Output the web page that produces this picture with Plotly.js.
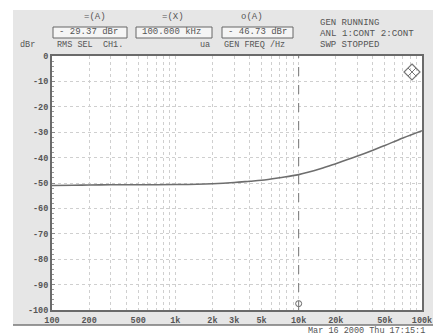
<!DOCTYPE html>
<html><head><meta charset="utf-8">
<script src="https://cdn.plot.ly/plotly-3.0.1.min.js"></script>
<style>html,body{margin:0;padding:0;background:#fff;}#chart{width:433px;height:336px;}</style>
</head><body><div id="chart"></div>
<script>
// ---- data ----
const freqHz = [100,150,200,300,400,500,700,1000,1500,2000,3000,4000,5000,7000,10000,15000,20000,30000,40000,50000,70000,100000];
const levelDbr = [-51.0,-50.9,-50.8,-50.7,-50.7,-50.7,-50.7,-50.6,-50.5,-50.3,-49.8,-49.3,-48.9,-47.9,-46.7,-44.4,-42.4,-39.4,-37.1,-35.2,-32.3,-29.4];
const xLabelVals = [100,200,500,1000,2000,3000,5000,10000,20000,50000,100000];
const xLabelText = ['100','200','500','1k','2k','3k','5k','10k','20k','50k','100k'];
const yTickVals = [0,-10,-20,-30,-40,-50,-60,-70,-80,-90,-100];
const cursorFreq = 10000;
const headerTitles = ['=(A)','=(X)','o(A)'];
const headerValues = ['- 29.37 dBr','100.000 kHz','- 46.73 dBr'];
const statusLines = ['GEN RUNNING','ANL 1:CONT 2:CONT','SWP STOPPED'];

// ---- geometry helpers (pixel -> paper) ----
const L=52, R=422, T=56, B=310;
const px = x => (x-L)/(R-L);
const py = y => (B-y)/(B-T);

// grid tick values: every 1..9 multiple per decade
const gridVals = [];
for (let d=100; d<100000; d*=10) for (let n=1;n<10;n++) gridVals.push(n*d);
gridVals.push(100000);
const gridText = gridVals.map(v => { const i = xLabelVals.indexOf(v); return i>=0 ? xLabelText[i] : ''; });

const mono = 'Liberation Mono, DejaVu Sans Mono, monospace';
const txtCol = '#555';

const traces = [
  {x: freqHz, y: levelDbr, type:'scatter', mode:'lines', line:{color:'#6e6e6e', width:1.6, shape:'spline'}, hoverinfo:'skip'},
  {x:[cursorFreq], y:[-97.5], type:'scatter', mode:'markers', marker:{symbol:'circle-open', size:6, color:'#666', line:{width:1}}, hoverinfo:'skip'}
];

const ann = [];
const hdrX = [95,173,252];
headerTitles.forEach((t,i)=>ann.push({text:t, x:px(hdrX[i]), y:py(17), xref:'paper', yref:'paper', showarrow:false, xanchor:'center', yanchor:'middle', font:{family:mono, size:9, color:txtCol}}));
const boxX = [[53,127],[136,212],[222,293]];
headerValues.forEach((t,i)=>ann.push({text:t, x:px(boxX[i][0]+4), y:py(32.5), xref:'paper', yref:'paper', showarrow:false, xanchor:'left', yanchor:'middle', font:{family:mono, size:9, color:txtCol}}));
[[18,'dBr'],[55,'RMS SEL  CH1.'],[198,'ua'],[222,'GEN FREQ /Hz']].forEach(([x,t])=>ann.push({text:t, x:px(x), y:py(45), xref:'paper', yref:'paper', showarrow:false, xanchor:'left', yanchor:'middle', font:{family:mono, size:8.5, color:txtCol}}));
statusLines.forEach((t,i)=>ann.push({text:t, x:px(318), y:py(23+i*11), xref:'paper', yref:'paper', showarrow:false, xanchor:'left', yanchor:'middle', font:{family:mono, size:i===1?9.2:9, color:txtCol}}));
ann.push({text:'Mar 16 2000 Thu 17:15:1', x:px(306), y:py(331), xref:'paper', yref:'paper', showarrow:false, xanchor:'left', yanchor:'middle', font:{family:mono, size:8.5, color:txtCol}});

const shapes = [
  // white outer margins
  {type:'rect', xref:'paper', yref:'paper', x0:px(0), x1:px(433), y0:py(0), y1:py(10), fillcolor:'#fff', line:{width:0}, layer:'below'},
  {type:'rect', xref:'paper', yref:'paper', x0:px(0), x1:px(13), y0:py(0), y1:py(336), fillcolor:'#fff', line:{width:0}, layer:'below'},
  {type:'rect', xref:'paper', yref:'paper', x0:px(0), x1:px(433), y0:py(325), y1:py(336), fillcolor:'#fff', line:{width:0}, layer:'below'},
  {type:'line', xref:'paper', yref:'paper', x0:px(13), x1:px(433), y0:py(325), y1:py(325), line:{color:'#777', width:1.5}},
  // header boxes
  ...boxX.map(([a,b])=>({type:'rect', xref:'paper', yref:'paper', x0:px(a), x1:px(b), y0:py(27), y1:py(38), fillcolor:'rgba(255,255,255,0.6)', line:{color:'#666', width:1}})),
  // cursor line
  {type:'line', xref:'x', yref:'paper', x0:cursorFreq, x1:cursorFreq, y0:0, y1:1, line:{color:'#777', width:1, dash:'dash'}},
  // R&S diamond logo
  {type:'path', xref:'paper', yref:'paper', path:`M ${px(412)} ${py(64)} L ${px(420)} ${py(72)} L ${px(412)} ${py(80)} L ${px(404)} ${py(72)} Z`, line:{color:'#777', width:1.2}},
  {type:'path', xref:'paper', yref:'paper', path:`M ${px(408)} ${py(68)} L ${px(416)} ${py(76)} M ${px(416)} ${py(68)} L ${px(408)} ${py(76)}`, line:{color:'#777', width:1}}
];

const layout = {
  width:433, height:336,
  margin:{l:L, r:433-R, t:T, b:336-B},
  paper_bgcolor:'#e6e6e6', plot_bgcolor:'#fff',
  showlegend:false,
  xaxis:{type:'log', range:[Math.log10(100), Math.log10(100000)], tickmode:'array', tickvals:gridVals, ticktext:gridText,
    showgrid:true, gridcolor:'#cfcfcf', griddash:'dot', gridwidth:1, ticks:'', showline:true, mirror:true, linecolor:'#6a6a6a', linewidth:2,
    tickfont:{family:mono, size:8.5, color:txtCol, weight:'bold'}, ticklabelstandoff:1, zeroline:false},
  yaxis:{range:[-100,0], tickmode:'array', tickvals:yTickVals, ticktext:yTickVals.map(v=>String(v)),
    showgrid:true, gridcolor:'#cfcfcf', griddash:'dot', gridwidth:1, ticks:'inside', ticklen:3, tickcolor:'#888',
    minor:{dtick:2, ticks:'inside', ticklen:2, tickcolor:'#999', showgrid:false},
    showline:true, mirror:true, linecolor:'#6a6a6a', linewidth:2, zeroline:false,
    tickfont:{family:mono, size:8.5, color:txtCol, weight:'bold'}},
  annotations:ann, shapes:shapes
};
Plotly.newPlot('chart', traces, layout, {staticPlot:true, displayModeBar:false});
</script></body></html>
